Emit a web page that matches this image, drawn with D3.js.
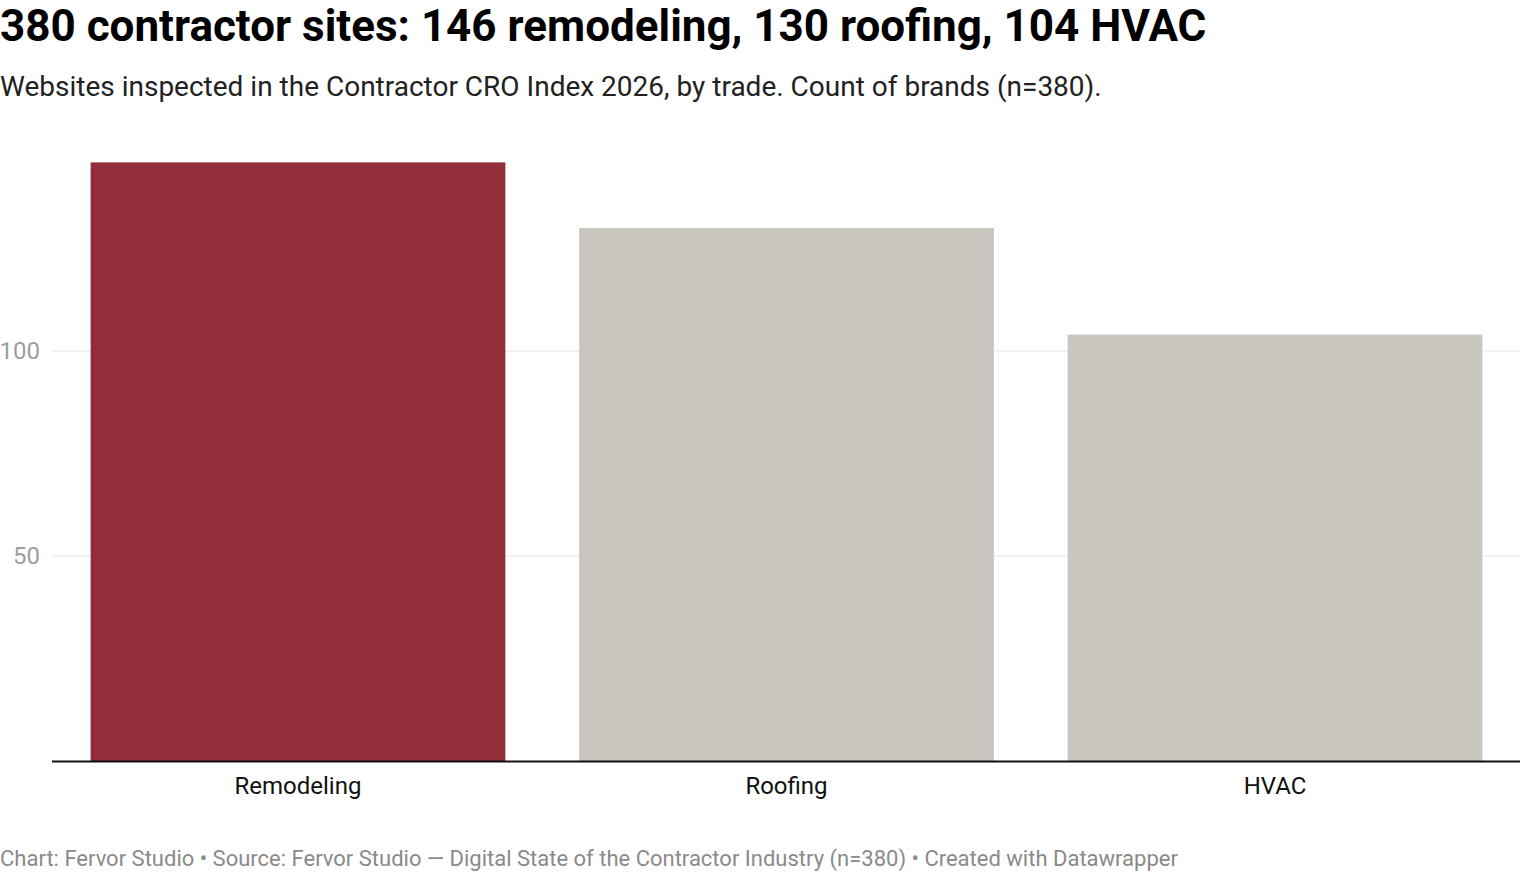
<!DOCTYPE html>
<html>
<head>
<meta charset="utf-8">
<script src="https://cdn.jsdelivr.net/npm/d3@7"></script>
<style>
  html, body { margin: 0; padding: 0; background: #fff; }
  svg { display: block; font-family: Roboto, "Noto Sans", sans-serif; }
</style>
</head>
<body>
<svg id="chart" width="1520" height="872"></svg>
<script>
const categories = ["Remodeling", "Roofing", "HVAC"];
const values = [146, 130, 104];
const highlight = ["Remodeling"];
const yTicks = [50, 100];
const title = "380 contractor sites: 146 remodeling, 130 roofing, 104 HVAC";
const subtitle = "Websites inspected in the Contractor CRO Index 2026, by trade. Count of brands (n=380).";
const footer = "Chart: Fervor Studio \u2022 Source: Fervor Studio \u2014 Digital State of the Contractor Industry (n=380) \u2022 Created with Datawrapper";

const svg = d3.select("#chart");
const left = 53, right = 1520, bottom = 761;

const x = d3.scaleBand().domain(categories).range([left, right])
  .paddingInner(0.151).paddingOuter(0.077);
const y = d3.scaleLinear().domain([0, 100]).range([bottom, 351]);

svg.append("text").attr("x", 0).attr("y", 41)
  .attr("font-size", 44).attr("font-weight", 700).attr("fill", "#000")
  .text(title);
svg.append("text").attr("x", 0).attr("y", 96)
  .attr("font-size", 28).attr("fill", "#222")
  .text(subtitle);

// gridlines
const grid = svg.append("g");
grid.selectAll("line").data(yTicks).join("line")
  .attr("x1", left).attr("x2", right)
  .attr("y1", d => y(d)).attr("y2", d => y(d))
  .attr("stroke", "#e5e5e5").attr("stroke-width", 1);
grid.selectAll("text").data(yTicks).join("text")
  .attr("x", 40).attr("y", d => y(d)).attr("dy", "0.35em")
  .attr("text-anchor", "end").attr("font-size", 24).attr("fill", "#9e9e9e")
  .text(d => d);

// bars
const data = categories.map((c, i) => ({ c, v: values[i] }));
svg.append("g").selectAll("rect").data(data).join("rect")
  .attr("x", d => x(d.c)).attr("width", x.bandwidth())
  .attr("y", d => y(d.v)).attr("height", d => y(0) - y(d.v))
  .attr("fill", d => highlight.includes(d.c) ? "#942d3a" : "#c9c6bf");

// baseline
svg.append("line").attr("x1", left - 1).attr("x2", right)
  .attr("y1", y(0) + 0.5).attr("y2", y(0) + 0.5)
  .attr("stroke", "#111").attr("stroke-width", 2);

// category labels
svg.append("g").selectAll("text").data(categories).join("text")
  .attr("x", d => x(d) + x.bandwidth() / 2).attr("y", 794)
  .attr("text-anchor", "middle").attr("font-size", 24).attr("fill", "#111")
  .text(d => d);

svg.append("text").attr("x", 0).attr("y", 866)
  .attr("font-size", 22).attr("fill", "#8a8a8a")
  .text(footer);
</script>
</body>
</html>
